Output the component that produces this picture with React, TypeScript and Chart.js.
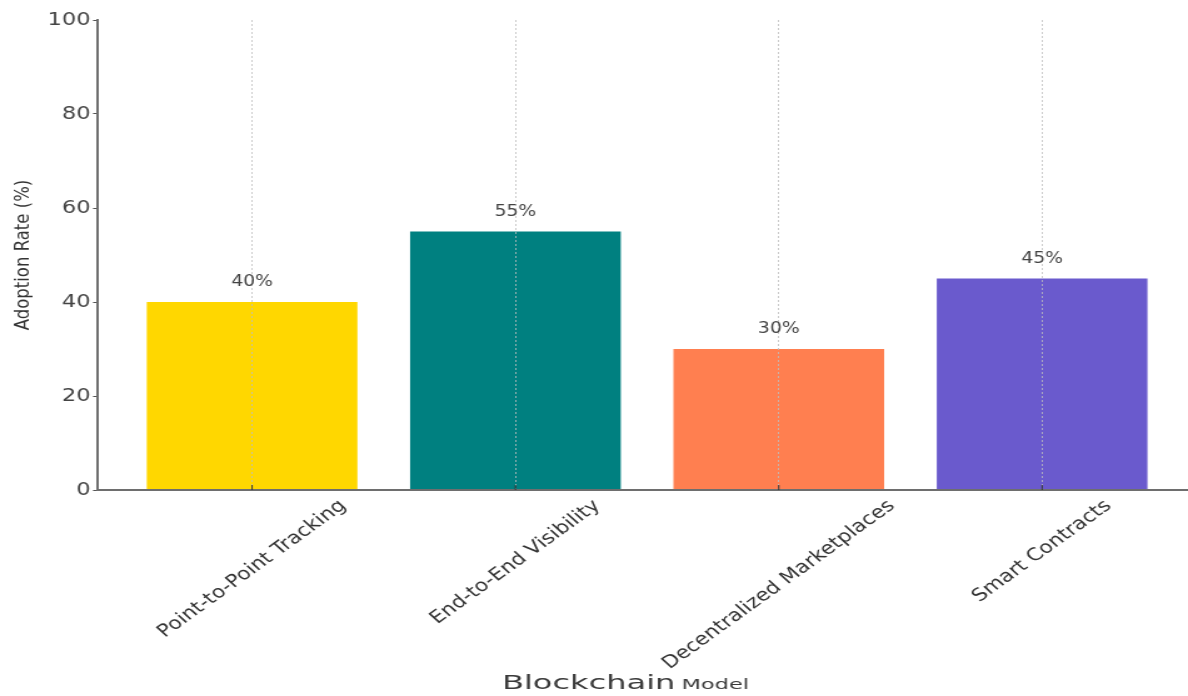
import React, { useEffect, useRef } from "react";
import { Chart, registerables } from "chart.js";

Chart.register(...registerables);

// ---- data ----
const categories = [
  "Point-to-Point Tracking",
  "End-to-End Visibility",
  "Decentralized Marketplaces",
  "Smart Contracts",
];
const adoptionRates = [40, 55, 30, 45];
const barColors = ["#FFD700", "#008080", "#FF7F50", "#6A5ACD"];
const valueLabels = adoptionRates.map((v) => `${v}%`);
const yTickValues = [0, 20, 40, 60, 80, 100];
const yTitle = "Adoption Rate (%)";
const xTitleMain = "Blockchain";
const xTitleSub = "Model";

// internal drawing width, stretched horizontally to 1188 CSS px
const INNER_W = 950;
const INNER_H = 696;
const FONT = '"DejaVu Sans", sans-serif';

const overlayPlugin = {
  id: "overlay",
  afterDraw(chart: any) {
    const { ctx, chartArea } = chart;
    const x = chart.scales.x;
    const y = chart.scales.y;
    ctx.save();

    // small inward x ticks
    ctx.strokeStyle = "#333";
    ctx.lineWidth = 1;
    categories.forEach((_, i) => {
      const px = x.getPixelForValue(i);
      ctx.beginPath();
      ctx.moveTo(px, chartArea.bottom);
      ctx.lineTo(px, chartArea.bottom - 5);
      ctx.stroke();
    });

    // value labels
    ctx.font = `15px ${FONT}`;
    ctx.fillStyle = "#444";
    ctx.textAlign = "center";
    ctx.textBaseline = "alphabetic";
    adoptionRates.forEach((v, i) => {
      ctx.fillText(valueLabels[i], x.getPixelForValue(i), y.getPixelForValue(v) - 16);
    });

    // x tick labels, rotated, centred under tick
    const fs = 17.5;
    const ang = (42 * Math.PI) / 180;
    ctx.font = `${fs}px ${FONT}`;
    ctx.fillStyle = "#333";
    categories.forEach((c, i) => {
      const w = ctx.measureText(c).width;
      const bbox = w * Math.sin(ang) + fs * Math.cos(ang);
      const cx = x.getPixelForValue(i);
      const cy = chartArea.bottom + 7 + bbox / 2;
      ctx.save();
      ctx.translate(cx, cy);
      ctx.rotate(-ang);
      ctx.textAlign = "center";
      ctx.textBaseline = "middle";
      ctx.fillText(c, 0, 0);
      ctx.restore();
    });

    // y title
    ctx.save();
    ctx.font = `16.5px ${FONT}`;
    ctx.fillStyle = "#333";
    ctx.translate(19.2, (chartArea.top + chartArea.bottom) / 2);
    ctx.rotate(-Math.PI / 2);
    ctx.textAlign = "center";
    ctx.textBaseline = "middle";
    ctx.fillText(yTitle, 0, 0);
    ctx.restore();

    // x title
    ctx.save();
    ctx.translate(401.4, 689);
    ctx.scale(1.28, 1);
    ctx.fillStyle = "#3a3a3a";
    ctx.textAlign = "left";
    ctx.textBaseline = "alphabetic";
    ctx.font = `20px ${FONT}`;
    ctx.fillText(xTitleMain, 0, 0);
    const wMain = ctx.measureText(xTitleMain).width;
    ctx.font = `14px ${FONT}`;
    ctx.fillText(xTitleSub, wMain + 4, 0);
    ctx.restore();

    ctx.restore();
  },
};

export default function App() {
  const canvasRef = useRef<HTMLCanvasElement | null>(null);

  useEffect(() => {
    if (!canvasRef.current) return;
    Chart.defaults.font.family = FONT;
    const chart = new Chart(canvasRef.current, {
      type: "bar",
      data: {
        datasets: [
          {
            data: adoptionRates.map((v, i) => ({ x: i, y: v })),
            backgroundColor: barColors,
            borderWidth: 0,
            barPercentage: 1,
            categoryPercentage: 0.8,
          },
        ],
      },
      options: {
        responsive: false,
        animation: false,
        devicePixelRatio: 1,
        layout: { padding: { top: 20, left: 0, right: 0, bottom: 0 } },
        plugins: {
          legend: { display: false },
          tooltip: { enabled: false },
        },
        scales: {
          x: {
            type: "linear",
            offset: false,
            min: -0.585,
            max: 3.554,
            afterFit: (s: any) => {
              s.height = 206;
            },
            afterBuildTicks: (s: any) => {
              s.ticks = categories.map((_, i) => ({ value: i }));
            },
            ticks: { display: false },
            grid: {
              display: true,
              offset: false,
              drawTicks: false,
              color: "rgba(190,190,190,0.8)",
              lineWidth: 1,
              z: 1,
            },
            border: { display: true, color: "#6e6e6e", width: 2, dash: [2, 2], z: 1 },
          },
          y: {
            type: "linear",
            min: 0,
            max: 100,
            afterFit: (s: any) => {
              s.width = 78.4;
            },
            afterBuildTicks: (s: any) => {
              s.ticks = yTickValues.map((v) => ({ value: v }));
            },
            ticks: {
              font: { size: 18, family: FONT },
              color: "#444",
              padding: 2,
            },
            grid: {
              drawOnChartArea: false,
              drawTicks: true,
              tickLength: 4,
              tickColor: "#555",
              tickWidth: 1,
            },
            border: { display: true, color: "#6e6e6e", width: 2 },
          },
        },
      },
      plugins: [overlayPlugin],
    } as any);
    return () => chart.destroy();
  }, []);

  return (
    <div style={{ position: "fixed", left: 0, top: 0, width: 1188, height: 696, background: "#fff" }}>
      <canvas
        ref={canvasRef}
        width={INNER_W}
        height={INNER_H}
        style={{ width: "1188px", height: "696px", display: "block" }}
      />
    </div>
  );
}
